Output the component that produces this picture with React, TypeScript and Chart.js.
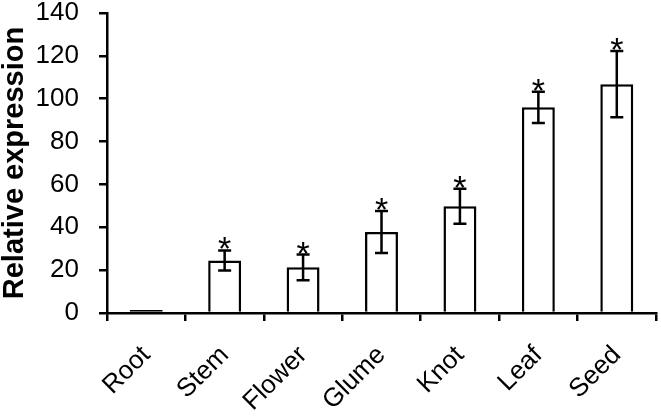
import React, { useEffect, useRef } from "react";
import { Chart, registerables } from "chart.js";

Chart.register(...registerables);

const categories = ["Root", "Stem", "Flower", "Glume", "Knot", "Leaf", "Seed"];
const values = [1.4, 24.5, 21.3, 37.8, 49.8, 96, 106.8];
const errors = [0, 4.7, 6, 9.8, 8.2, 7.3, 15.5];
const significant = [false, true, true, true, true, true, true];
const yTicks = [0, 20, 40, 60, 80, 100, 120, 140];

const FONT = "'Liberation Sans', Arial, sans-serif";

const errorBarPlugin = {
  id: "errorBars",
  afterDatasetsDraw(chart: any) {
    const ctx = chart.ctx;
    const meta = chart.getDatasetMeta(0);
    const y = chart.scales.y;
    ctx.save();
    ctx.strokeStyle = "#000";
    ctx.fillStyle = "#000";
    ctx.lineWidth = 2.5;
    meta.data.forEach((bar: any, i: number) => {
      const x = bar.x;
      const v = values[i];
      const e = errors[i];
      const top = y.getPixelForValue(v + e);
      if (e > 0) {
        const bot = y.getPixelForValue(v - e);
        const cap = 6.5;
        ctx.beginPath();
        ctx.moveTo(x, top);
        ctx.lineTo(x, bot);
        ctx.moveTo(x - cap, top);
        ctx.lineTo(x + cap, top);
        ctx.moveTo(x - cap, bot);
        ctx.lineTo(x + cap, bot);
        ctx.stroke();
      }
      if (significant[i]) {
        ctx.font = `34px ${FONT}`;
        ctx.textAlign = "center";
        ctx.textBaseline = "alphabetic";
        ctx.fillText("*", x, top + 10);
      }
    });
    ctx.restore();
  },
};

export default function App() {
  const ref = useRef<HTMLCanvasElement | null>(null);
  useEffect(() => {
    if (!ref.current) return;
    const chart = new Chart(ref.current, {
      type: "bar",
      data: {
        labels: categories,
        datasets: [
          {
            data: values,
            backgroundColor: (c: any) => (values[c.dataIndex] < 3 ? "#000" : "#fff"),
            borderColor: "#000",
            borderWidth: 2.5,
            categoryPercentage: 1,
            barPercentage: 0.42,
          },
        ],
      },
      options: {
        animation: false,
        responsive: true,
        maintainAspectRatio: false,
        layout: { padding: { top: 13, right: 5, left: 0, bottom: 0 } },
        plugins: { legend: { display: false }, tooltip: { enabled: false } },
        scales: {
          x: {
            offset: true,
            grid: {
              display: true,
              offset: true,
              drawOnChartArea: false,
              drawTicks: true,
              tickLength: 8,
              color: "#000",
              lineWidth: 2.5,
            },
            border: { color: "#000", width: 2.5 },
            ticks: {
              color: "#000",
              font: { size: 26, family: FONT },
              minRotation: 45,
              maxRotation: 45,
              padding: 19,
            },
            afterFit: (s: any) => {
              s.height = 107;
              s.paddingLeft = 0;
              s.paddingRight = 0;
            },
          },
          y: {
            min: 0,
            max: 140,
            afterBuildTicks: (s: any) => {
              s.ticks = yTicks.map((v) => ({ value: v }));
            },
            grid: {
              display: true,
              drawOnChartArea: false,
              drawTicks: true,
              tickLength: 8,
              color: "#000",
              lineWidth: 2.5,
            },
            border: { color: "#000", width: 2.5 },
            ticks: {
              color: "#000",
              font: { size: 26, family: FONT },
              padding: 20,
            },
            title: {
              display: true,
              text: "Relative expression",
              color: "#000",
              font: { size: 29, weight: "bold", family: FONT, lineHeight: 1 },
              padding: { top: 0, bottom: 0 },
            },
            afterFit: (s: any) => {
              s.width = 107;
              s.paddingTop = 0;
              s.paddingBottom = 0;
            },
          },
        },
      },
      plugins: [errorBarPlugin],
    });
    return () => chart.destroy();
  }, []);
  return (
    <div style={{ position: "fixed", left: 0, top: 0, width: 661, height: 420, background: "#fff" }}>
      <canvas ref={ref} />
    </div>
  );
}
